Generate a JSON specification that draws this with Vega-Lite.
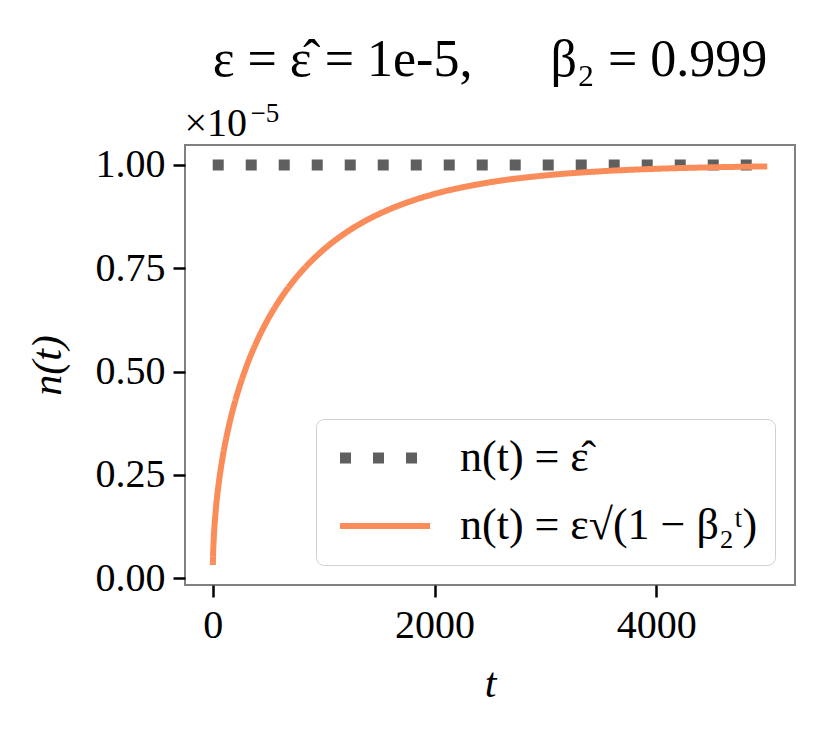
{
  "$schema": "https://vega.github.io/schema/vega-lite/v6.json",
  "width": 610,
  "height": 440,
  "autosize": {"type": "none"},
  "padding": {"left": 185, "top": 145, "right": 45, "bottom": 165},
  "background": "white",
  "config": {
    "font": "Liberation Serif",
    "view": {"stroke": "#808080", "strokeWidth": 2},
    "axis": {
      "domain": false,
      "grid": false,
      "tickColor": "black",
      "tickSize": 12,
      "tickWidth": 2.5,
      "labelFont": "Liberation Serif",
      "labelFontSize": 40,
      "labelColor": "black",
      "titleFont": "Liberation Serif",
      "titleFontSize": 42,
      "titleFontWeight": "normal",
      "titleFontStyle": "italic",
      "titleColor": "black"
    },
    "legend": {
      "orient": "bottom-right",
      "offset": 20,
      "strokeColor": "#d0d0d0",
      "cornerRadius": 8,
      "fillColor": "rgba(255,255,255,0.85)",
      "padding": 17,
      "labelFont": "Liberation Serif",
      "labelFontSize": 44,
      "labelColor": "black",
      "symbolType": "M-1,0H5",
      "symbolSize": 900,
      "symbolStrokeWidth": 8,
      "labelOffset": 83,
      "rowPadding": 24,
      "labelLimit": 600
    }
  },
  "title": {
    "text": "ε = ε̂ = 1e-5,\u2003\u2002β₂ = 0.999",
    "font": "Liberation Serif",
    "fontSize": 52,
    "fontWeight": "normal",
    "color": "black",
    "baseline": "alphabetic",
    "offset": -28
  },
  "layer": [
    {
      "data": {
        "values": [
          {"t": 0, "n": 1.0, "series": "n(t) = ε̂"},
          {"t": 5000, "n": 1.0, "series": "n(t) = ε̂"},
          {"t": 1, "n": 0.0316, "series": "n(t) = ε√(1 − β₂ᵗ)"},
          {"t": 2, "n": 0.0447, "series": "n(t) = ε√(1 − β₂ᵗ)"},
          {"t": 5, "n": 0.0706, "series": "n(t) = ε√(1 − β₂ᵗ)"},
          {"t": 10, "n": 0.0998, "series": "n(t) = ε√(1 − β₂ᵗ)"},
          {"t": 25, "n": 0.1572, "series": "n(t) = ε√(1 − β₂ᵗ)"},
          {"t": 50, "n": 0.2209, "series": "n(t) = ε√(1 − β₂ᵗ)"},
          {"t": 75, "n": 0.2689, "series": "n(t) = ε√(1 − β₂ᵗ)"},
          {"t": 100, "n": 0.3086, "series": "n(t) = ε√(1 − β₂ᵗ)"},
          {"t": 150, "n": 0.3733, "series": "n(t) = ε√(1 − β₂ᵗ)"},
          {"t": 200, "n": 0.4259, "series": "n(t) = ε√(1 − β₂ᵗ)"},
          {"t": 300, "n": 0.5092, "series": "n(t) = ε√(1 − β₂ᵗ)"},
          {"t": 400, "n": 0.5743, "series": "n(t) = ε√(1 − β₂ᵗ)"},
          {"t": 500, "n": 0.6274, "series": "n(t) = ε√(1 − β₂ᵗ)"},
          {"t": 600, "n": 0.6718, "series": "n(t) = ε√(1 − β₂ᵗ)"},
          {"t": 700, "n": 0.7096, "series": "n(t) = ε√(1 − β₂ᵗ)"},
          {"t": 800, "n": 0.7422, "series": "n(t) = ε√(1 − β₂ᵗ)"},
          {"t": 1000, "n": 0.7952, "series": "n(t) = ε√(1 − β₂ᵗ)"},
          {"t": 1200, "n": 0.8361, "series": "n(t) = ε√(1 − β₂ᵗ)"},
          {"t": 1500, "n": 0.8815, "series": "n(t) = ε√(1 − β₂ᵗ)"},
          {"t": 1750, "n": 0.909, "series": "n(t) = ε√(1 − β₂ᵗ)"},
          {"t": 2000, "n": 0.9299, "series": "n(t) = ε√(1 − β₂ᵗ)"},
          {"t": 2500, "n": 0.9581, "series": "n(t) = ε√(1 − β₂ᵗ)"},
          {"t": 3000, "n": 0.9748, "series": "n(t) = ε√(1 − β₂ᵗ)"},
          {"t": 3500, "n": 0.9848, "series": "n(t) = ε√(1 − β₂ᵗ)"},
          {"t": 4000, "n": 0.9908, "series": "n(t) = ε√(1 − β₂ᵗ)"},
          {"t": 4500, "n": 0.9944, "series": "n(t) = ε√(1 − β₂ᵗ)"},
          {"t": 5000, "n": 0.9966, "series": "n(t) = ε√(1 − β₂ᵗ)"}
        ]
      },
      "mark": {"type": "line", "interpolate": "monotone", "strokeCap": "butt"},
      "encoding": {
        "x": {
          "field": "t",
          "type": "quantitative",
          "scale": {"domain": [-250, 5250], "nice": false, "zero": false},
          "axis": {"title": "t", "values": [0, 2000, 4000], "format": "d", "labelPadding": 8, "titlePadding": 18}
        },
        "y": {
          "field": "n",
          "type": "quantitative",
          "scale": {"domain": [-0.0168, 1.0484], "nice": false, "zero": false},
          "axis": {"title": "n(t)", "values": [0, 0.25, 0.5, 0.75, 1], "format": ".2f", "labelPadding": 8, "titlePadding": 26}
        },
        "color": {
          "field": "series",
          "type": "nominal",
          "scale": {"domain": ["n(t) = ε̂", "n(t) = ε√(1 − β₂ᵗ)"], "range": ["#5f5f5f", "#fa8c5a"]},
          "legend": {"title": null, "labelExpr": "datum.label + '\u2002'"}
        },
        "strokeDash": {
          "field": "series",
          "type": "nominal",
          "scale": {"domain": ["n(t) = ε̂", "n(t) = ε√(1 − β₂ᵗ)"], "range": [[11, 22], [1, 0]]},
          "legend": {"title": null, "labelExpr": "datum.label + '\u2002'"}
        },
        "strokeWidth": {
          "field": "series",
          "type": "nominal",
          "scale": {"domain": ["n(t) = ε̂", "n(t) = ε√(1 − β₂ᵗ)"], "range": [11, 6]},
          "legend": {"title": null, "labelExpr": "datum.label + '\u2002'"}
        }
      }
    },
    {
      "data": {"values": [{}]},
      "mark": {"type": "text", "align": "left", "baseline": "alphabetic", "dy": -9, "fontSize": 40, "font": "Liberation Serif", "color": "black"},
      "encoding": {
        "x": {"datum": -255, "type": "quantitative"},
        "y": {"datum": 1.0484, "type": "quantitative"},
        "text": {"value": "×10"}
      }
    },
    {
      "data": {"values": [{}]},
      "mark": {"type": "text", "align": "left", "baseline": "alphabetic", "dx": 66, "dy": -23, "fontSize": 27, "font": "Liberation Serif", "color": "black"},
      "encoding": {
        "x": {"datum": -255, "type": "quantitative"},
        "y": {"datum": 1.0484, "type": "quantitative"},
        "text": {"value": "−5"}
      }
    }
  ]
}
